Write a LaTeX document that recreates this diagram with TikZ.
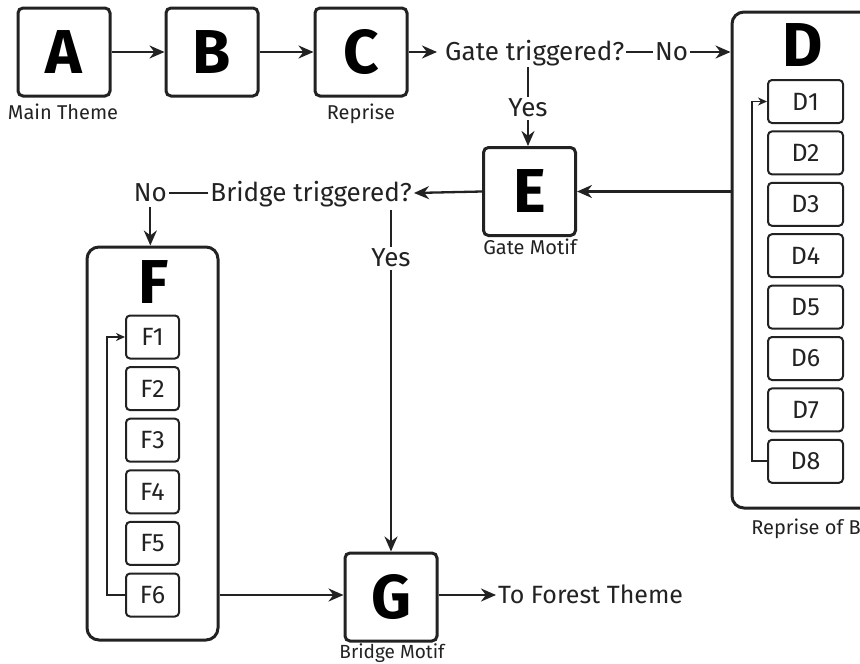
\documentclass[tikz,border=0pt]{standalone}
\usepackage{fontspec}
\setmainfont{Fira Sans}
\usetikzlibrary{arrows.meta}
\definecolor{ink}{HTML}{222222}
\begin{document}
\begin{tikzpicture}[x=1pt,y=-1pt,
  bigbox/.style={draw=ink, line width=3pt, rounded corners=5pt, minimum width=92pt, minimum height=88pt, inner sep=0pt, text=black, font=\fontsize{62}{62}\selectfont\bfseries},
  letter/.style={inner sep=0pt, text=black, font=\fontsize{62}{62}\selectfont\bfseries},
  grp/.style={draw=ink, line width=3pt, rounded corners=12pt, inner sep=0pt},
  item/.style={draw=ink, line width=2pt, rounded corners=4pt, minimum height=43pt, inner sep=0pt, text=ink, font=\fontsize{25}{25}\selectfont},
  txt/.style={inner xsep=2pt, inner ysep=0pt, text height=17.9pt, text depth=0pt, text=ink, font=\fontsize{26}{26}\selectfont},
  lbl/.style={inner sep=0pt, text height=13.8pt, text depth=0pt, text=ink, font=\fontsize{20}{20}\selectfont},
  conn/.style={draw=ink, line width=2.3pt},
  arr/.style={conn, -{Stealth[length=15pt,width=13pt]}},
  looparr/.style={draw=ink, line width=1.8pt, -{Stealth[length=9pt,width=8pt]}},
]
\useasboundingbox (0,0) rectangle (860,664);
% top row
\node[bigbox] (A) at (64,52) {A};
\node[bigbox] (B) at (212,52) {B};
\node[bigbox] (C) at (361,52) {C};
\node[lbl] (lA) at (63,113) {Main Theme};
\node[lbl] (lC) at (361,113) {Reprise};
\node[txt, anchor=west] (gate) at (443,52) {Gate triggered?};
\node[txt, anchor=west] (no1) at (653,52) {No};
% D group
\node[grp, minimum width=144pt, minimum height=496pt] (D) at (804,260) {};
\node[letter] (Dl) at (803,45) {D};
\foreach \i in {1,...,8} {
  \node[item, minimum width=75pt] (D\i) at (805.5,{101.5+51.4*(\i-1)}) {D\i};
}
\node[lbl] (lD) at (806,528) {Reprise of B};
% E
\node[bigbox] (E) at (529.5,191.5) {E};
\node[lbl] (lE) at (530,248) {Gate Motif};
\node[txt] (yes1) at (528,108) {Yes};
\node[txt, anchor=east] (bridge) at (414,193) {Bridge triggered?};
\node[txt, anchor=east] (no2) at (169,193) {No};
\node[txt] (yes2) at (391,258) {Yes};
% F group
\node[grp, minimum width=131pt, minimum height=393pt] (F) at (152.5,443.5) {};
\node[letter] (Fl) at (154,282) {F};
\foreach \i in {1,...,6} {
  \node[item, minimum width=53pt] (F\i) at (152.5,{337+51.6*(\i-1)}) {F\i};
}
% G
\node[bigbox] (G) at (391,597) {G};
\node[lbl, font=\fontsize{19}{19}\selectfont, text height=13.1pt] (lG) at (392,651.5) {Bridge Motif};
\node[txt, anchor=west, font=\fontsize{25}{25}\selectfont, text height=17.2pt] (forest) at (496,595) {To Forest Theme};
% connectors
\draw[arr] (A) -- (B);
\draw[arr] (B) -- (C);
\draw[arr, shorten >=6pt] (gate.west -| C.east) -- (gate.west);
\draw[conn] (gate) -- (no1);
\draw[arr] (no1.east) -- (no1.east -| D.west);
\draw[conn, shorten <=6pt, shorten >=2pt] (yes1 |- gate.south) -- (yes1.north);
\draw[arr, shorten <=3pt] (yes1.south) -- (yes1.south |- E.north);
\draw[arr] (E.east -| D.west) -- (E.east);
\draw[arr] (E.west) -- (bridge.east);
\draw[conn] (bridge.west) -- (no2.east);
\draw[arr, shorten <=5pt] (no2.south) -- (no2.south |- F.north);
\draw[conn, shorten <=8pt, shorten >=2pt] (yes2 |- bridge.south) -- (yes2.north);
\draw[arr, shorten <=3pt] (yes2.south) -- (yes2.south |- G.north);
\draw[arr] (F.east |- F6) -- (F6 -| G.west);
\draw[arr] (forest.west -| G.east) -- (forest.west);
\draw[looparr] (D8.west) -- ++(-15,0) |- (D1.west);
\draw[looparr] (F6.west) -- ++(-18,0) |- (F1.west);
\end{tikzpicture}
\end{document}
